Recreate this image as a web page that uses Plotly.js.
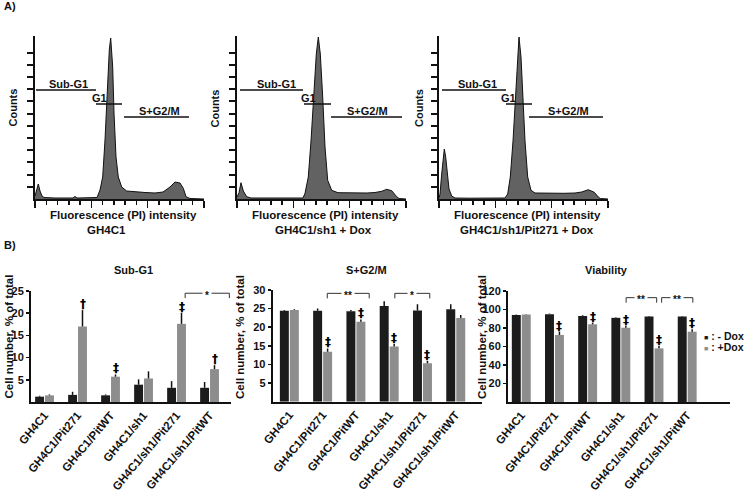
<!DOCTYPE html>
<html><head><meta charset="utf-8">
<script src="https://cdn.plot.ly/plotly-3.0.1.min.js"></script>
<style>html,body{margin:0;padding:0;background:#fff}#chart{width:750px;height:491px}</style>
</head><body><div id="chart"></div>
<script>
// ---------- DATA ----------
// Panel A: flow cytometry histograms (x = fluorescence channel offset, y = counts)
const hist1X = [0, 2, 3.3, 5, 7, 9, 20, 38, 40, 42, 55, 62, 65, 67.7, 70, 72.3, 74.3, 75.7, 77.7, 79, 81, 83.3, 86.7, 91.7, 100, 110, 120, 128, 135, 140, 145, 148.3, 151, 155, 169];
const hist1Y = [3, 10, 15, 8, 3, 1.5, 1, 1, 2.5, 1, 1, 1.5, 9, 22, 59, 109, 149, 161, 132, 86, 42, 22, 12, 8, 7, 6.5, 6, 7, 12, 17, 16, 10.7, 2.3, 0.5, 0];
const hist2X = [0, 2, 4, 6.3, 9.7, 14, 30, 50, 66, 68, 71.3, 74, 76.7, 79.3, 81.3, 83.3, 85.7, 88, 90.7, 94.7, 101, 115, 130, 138, 144.7, 149.7, 154.7, 159.7, 162, 169];
const hist2Y = [2, 6.3, 16.3, 8, 2.3, 1, 1, 0.8, 1, 5.7, 22, 58, 102, 145, 162, 145, 102, 52, 18.7, 8.7, 6.3, 6, 6, 6.5, 7.7, 9.7, 8.3, 2.3, 0.5, 0];
const hist3X = [0, 1, 2.7, 4.3, 5.3, 6.7, 8.3, 10, 12.7, 16, 30, 50, 66, 68.7, 71.3, 74, 76, 78, 80, 82, 84, 86, 88.7, 92, 96, 110, 125, 136, 142.7, 149.3, 155.3, 159.3, 161.3, 169];
const hist3Y = [1, 5, 25, 45, 50, 42, 25, 10, 3, 1, 0.8, 0.8, 1, 5, 22, 58, 95.7, 135.7, 162, 142, 102, 58, 22, 8.7, 6, 5.7, 5.7, 6, 7, 9.3, 6.7, 2, 0.5, 0];
const histCaptions = ['GH4C1', 'GH4C1/sh1 + Dox', 'GH4C1/sh1/Pit271 + Dox'];

// Panel B: bar charts
const categories = ['GH4C1', 'GH4C1/Pit271', 'GH4C1/PitWT', 'GH4C1/sh1', 'GH4C1/sh1/Pit271', 'GH4C1/sh1/PitWT'];
const subG1Minus    = [1.2, 1.6, 1.5, 3.9, 3.2, 3.2];
const subG1MinusErr = [0.2, 0.7, 0.2, 1.2, 1.5, 1.3];
const subG1Plus     = [1.5, 17.0, 5.7, 5.3, 17.6, 7.4];
const subG1PlusErr  = [0.2, 3.7, 0.5, 1.6, 2.5, 0.9];
const subG1Sig      = ['', '†', '‡', '', '‡', '†'];

const sg2mMinus    = [24.4, 24.4, 24.3, 25.7, 24.5, 24.8];
const sg2mMinusErr = [0.2, 0.6, 0.3, 1.3, 1.7, 1.4];
const sg2mPlus     = [24.6, 13.4, 21.5, 14.8, 10.3, 22.5];
const sg2mPlusErr  = [0.2, 0.9, 0.6, 0.7, 0.6, 0.8];
const sg2mSig      = ['', '‡', '‡', '‡', '‡', ''];

const viaMinus    = [94, 95, 93, 91, 92.5, 92.5];
const viaMinusErr = [0.5, 0.6, 0.8, 0.6, 0.6, 0.6];
const viaPlus     = [94.5, 72.5, 84, 80.3, 58, 76];
const viaPlusErr  = [0.5, 3.5, 1.7, 2.2, 2.5, 2.6];
const viaSig      = ['', '‡', '‡', '‡', '‡', '‡'];

const legendLabels = [': - Dox', ': +Dox'];

// ---------- LAYOUT HELPERS ----------
const W = 750, H = 491;
const px = x => x / W, py = y => 1 - y / H;
const FONT = 'Liberation Sans, Arial, sans-serif';
const SYMFONT = 'DejaVu Sans, Liberation Sans, sans-serif';
const TXT = '#111111';
const BLACK = '#1c1c1c', GRAY = '#8d8d8d';
const annotations = [];
const shapes = [];
function ann(text, x, y, o) {
  annotations.push(Object.assign({text: text, x: px(x), y: py(y), xref: 'paper', yref: 'paper',
    showarrow: false, xanchor: 'center', yanchor: 'middle',
    font: {family: FONT, size: 11, color: TXT, weight: 'bold'}}, o || {}));
}

const layout = {
  width: W, height: H, margin: {l: 0, r: 0, t: 0, b: 0}, autosize: false,
  paper_bgcolor: '#fff', plot_bgcolor: 'rgba(0,0,0,0)', showlegend: false,
  barmode: 'group', bargap: 0.4, bargroupgap: 0.1,
  font: {family: FONT, color: TXT}
};
const traces = [];

// ---------- PANEL A ----------
const hists = [[hist1X, hist1Y], [hist2X, hist2Y], [hist3X, hist3Y]];
const histLeft = [35, 237, 439];
const countsX = [12.5, 214.5, 419];
const gates = [
  {sub: [1, 61], g1: [61, 87], s: [89, 154], subL: 33, g1L: 64.7, sL: 124},
  {sub: [3, 66], g1: [67, 94], s: [94, 165], subL: 39, g1L: 71, sL: 130},
  {sub: [3, 67], g1: [67, 93], s: [90, 164], subL: 38, g1L: 69, sL: 129.7}
];
const yTickVals = [];
for (let k = 1; k <= 12; k++) yTickVals.push(+(k * 12.2).toFixed(2));
hists.forEach((h, i) => {
  const n = i + 1, xa = 'xaxis' + (n === 1 ? '' : n), ya = 'yaxis' + (n === 1 ? '' : n);
  const xr = 'x' + (n === 1 ? '' : n), yr = 'y' + (n === 1 ? '' : n);
  traces.push({type: 'scatter', mode: 'lines', x: h[0], y: h[1], xaxis: xr, yaxis: yr,
    line: {color: '#111', width: 1}, fill: 'tozeroy', fillcolor: '#626262', hoverinfo: 'skip'});
  layout[xa] = {domain: [px(histLeft[i]), px(histLeft[i] + 169)], anchor: yr, range: [0, 169],
    showgrid: false, zeroline: false, showline: true, linecolor: '#111', linewidth: 2,
    ticks: 'outside', tick0: 0, dtick: 56.3, ticklen: 7, tickwidth: 1.5, tickcolor: '#111', showticklabels: false,
    minor: {ticks: 'outside', dtick: 11.26, tick0: 0, ticklen: 4, tickwidth: 1.5, tickcolor: '#111', showgrid: false}};
  layout[ya] = {domain: [py(199), py(36)], anchor: xr, range: [0, 163],
    showgrid: false, zeroline: false, showline: true, linecolor: '#111', linewidth: 2,
    ticks: 'outside', tickmode: 'array', tickvals: yTickVals, ticklen: 6, tickwidth: 2, tickcolor: '#111', showticklabels: false};
  const g = gates[i];
  const seg = (x0, x1, y) => shapes.push({type: 'line', xref: xr, yref: yr, x0: x0, x1: x1, y0: y, y1: y, line: {color: '#111', width: 1.5}});
  seg(g.sub[0], g.sub[1], 109); seg(g.g1[0], g.g1[1], 95); seg(g.s[0], g.s[1], 82);
  const lab = (t, x, y) => annotations.push({text: t, x: x, y: y, xref: xr, yref: yr, showarrow: false,
    xanchor: 'center', yanchor: 'bottom', yshift: -2, font: {family: FONT, size: 11, color: TXT, weight: 'bold'}});
  lab('Sub-G1', g.subL, 109); lab('G1', g.g1L, 95); lab('S+G2/M', g.sL, 82);
  ann('Counts', countsX[i], 108, {textangle: -90});
  ann('Fluorescence (PI) intensity', histLeft[i] + 88, 215, {font: {family: FONT, size: 11.5, color: TXT, weight: 'bold'}});
  ann(histCaptions[i], [106.7, 323, 527][i], 230, {font: {family: FONT, size: 11.5, color: TXT, weight: 'bold'}});
});
ann('A)', 2, 6, {xanchor: 'left'});
ann('B)', 2, 245, {xanchor: 'left'});

// ---------- PANEL B ----------
const idx = categories.map((c, i) => i);
const panels = [
  {n: 4, minus: subG1Minus, minusErr: subG1MinusErr, plus: subG1Plus, plusErr: subG1PlusErr, sig: subG1Sig,
   title: 'Sub-G1', titleX: 133, xPx: [31, 231], yPx: [402, 291], yMax: 25, ticks: [5, 10, 15, 20, 25],
   xRange: [-0.41, 5.65], ytitleX: 8.5, brackets: [[4.26, 5.6, 24.5, '*']], tickDrop: 1.1},
  {n: 5, minus: sg2mMinus, minusErr: sg2mMinusErr, plus: sg2mPlus, plusErr: sg2mPlusErr, sig: sg2mSig,
   title: 'S+G2/M', titleX: 366, xPx: [272.7, 481.7], yPx: [401.7, 290], yMax: 30, ticks: [5, 10, 15, 20, 25, 30],
   xRange: [-0.5, 5.78], ytitleX: 240, brackets: [[1.14, 2.4, 29.1, '**'], [3.17, 4.22, 29.1, '*']], tickDrop: 1.35},
  {n: 6, minus: viaMinus, minusErr: viaMinusErr, plus: viaPlus, plusErr: viaPlusErr, sig: viaSig,
   title: 'Viability', titleX: 606, xPx: [508, 730], yPx: [402, 291], yMax: 120, ticks: [20, 40, 60, 80, 100, 120],
   xRange: [-0.4, 6.29], ytitleX: 482, brackets: [[3.16, 4.08, 112.8, '**'], [4.23, 5.17, 112.8, '**']], tickDrop: 5.4}
];
panels.forEach(p => {
  const xr = 'x' + p.n, yr = 'y' + p.n;
  const zeros = p.minus.map(() => 0);
  traces.push({type: 'bar', x: idx, y: p.minus, xaxis: xr, yaxis: yr, name: '- Dox',
    marker: {color: BLACK, line: {width: 0}},
    error_y: {type: 'data', symmetric: false, array: p.minusErr, arrayminus: zeros, color: '#111', thickness: 1.5, width: 0}});
  traces.push({type: 'bar', x: idx, y: p.plus, xaxis: xr, yaxis: yr, name: '+Dox',
    marker: {color: GRAY, line: {width: 0}},
    error_y: {type: 'data', symmetric: false, array: p.plusErr, arrayminus: zeros, color: '#111', thickness: 1.5, width: 0}});
  layout['xaxis' + p.n] = {domain: [px(p.xPx[0]), px(p.xPx[1])], anchor: yr, range: p.xRange,
    showgrid: false, zeroline: false, showline: true, linecolor: '#111', linewidth: 2, ticks: '',
    tickmode: 'array', tickvals: idx, ticktext: categories, tickangle: -50,
    tickfont: {family: FONT, size: 11.5, color: TXT, weight: 'bold'}};
  layout['yaxis' + p.n] = {domain: [py(p.yPx[0]), py(p.yPx[1])], anchor: xr, range: [0, p.yMax],
    showgrid: false, zeroline: false, showline: true, linecolor: '#111', linewidth: 2,
    ticks: 'outside', ticklen: 3, tickwidth: 1.5, tickcolor: '#111', tickmode: 'array', tickvals: p.ticks,
    tickfont: {family: FONT, size: 11, color: TXT, weight: 'bold'}};
  ann(p.title, p.titleX, 270, {font: {family: FONT, size: 11, color: TXT, weight: 'bold'}});
  ann('Cell number, % of total', p.ytitleX, 337, {textangle: -90, font: {family: FONT, size: 11.5, color: TXT, weight: 'bold'}});
  p.sig.forEach((s, i) => {
    if (!s) return;
    annotations.push({text: s, x: idx[i], y: p.plus[i] + p.plusErr[i], xref: xr, yref: yr, showarrow: false,
      xanchor: 'center', yanchor: 'bottom', xshift: 5, yshift: -3, font: {family: SYMFONT, size: 12, color: '#000', weight: 'bold'}});
  });
  p.brackets.forEach(b => {
    const [x0, x1, y, lab] = b;
    shapes.push({type: 'path', xref: xr, yref: yr,
      path: `M${x0},${y - p.tickDrop} L${x0},${y} L${x1},${y} L${x1},${y - p.tickDrop}`,
      line: {color: '#333', width: 1}});
    annotations.push({text: lab, x: (x0 + x1) / 2, y: y, xref: xr, yref: yr, showarrow: false,
      xanchor: 'center', yanchor: 'middle', bgcolor: '#fff', borderpad: 2, yshift: -2,
      font: {family: FONT, size: 10, color: TXT, weight: 'bold'}});
  });
});
// legend
ann('<span style="color:' + BLACK + ';font-size:7px">■</span> ' + legendLabels[0], 703, 336, {xanchor: 'left', borderpad: 0, font: {family: FONT, size: 10.5, color: TXT, weight: 'bold'}});
ann('<span style="color:' + GRAY + ';font-size:7px">■</span> ' + legendLabels[1], 703, 347, {xanchor: 'left', borderpad: 0, font: {family: FONT, size: 10.5, color: TXT, weight: 'bold'}});

layout.annotations = annotations;
layout.shapes = shapes;
Plotly.newPlot('chart', traces, layout, {staticPlot: true, displayModeBar: false});
</script></body></html>
